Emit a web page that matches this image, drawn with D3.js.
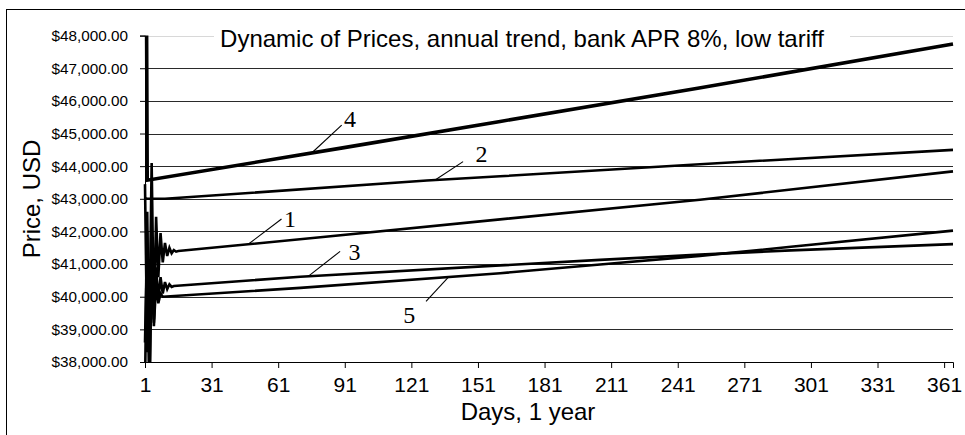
<!DOCTYPE html>
<html>
<head>
<meta charset="utf-8">
<script src="https://cdn.jsdelivr.net/npm/d3@7"></script>
<style>
  body { margin: 0; background: #fff; }
  svg { display: block; }
</style>
</head>
<body>
<div id="chart"></div>
<script>
// ---- data ----
const titleText = "Dynamic of Prices, annual trend, bank APR 8%, low tariff";
const xLabel = "Days, 1 year";
const yLabel = "Price, USD";
const xTicks = [1, 31, 61, 91, 121, 151, 181, 211, 241, 271, 301, 331, 361];
const yTicks = [38000, 39000, 40000, 41000, 42000, 43000, 44000, 45000, 46000, 47000, 48000];

// [day, price]
const series1 = [[1,43450],[2,38300],[3,39200],[4,44100],[5,39200],[6,42450],[7,40600],[8,41950],[9,41050],[10,41650],
  [11,41250],[12,41500],[13,41330],[14,41430],[15,41380],[16,41400],[80,41820],[161,42370],[251,42970],[365,43840]];
const series2 = [[1,43020],[2,43000],[10,43000],[128,43560],[161,43690],[251,44060],[365,44500]];
const series3 = [[1,37200],[2,42600],[3,37400],[4,41600],[5,39300],[6,40900],[7,39900],[8,40600],[9,40100],[10,40450],
  [11,40230],[12,40380],[13,40300],[14,40330],[71,40610],[161,40960],[206,41130],[251,41290],[292,41420],[365,41610]];
const series4 = [[1,60000],[2,43570],[90,44560],[161,45370],[250,46390],[365,47740]];
const series5 = [[1,38600],[2,42000],[3,36500],[4,41200],[5,39100],[6,40400],[7,39800],[8,40100],[9,40000],
  [71,40270],[161,40720],[206,40985],[251,41250],[292,41530],[365,42025]];

const seriesNames = ["1", "2", "3", "4", "5"];
const seriesData = [series1, series2, series3, series4, series5];
const seriesWidth = [2.6, 2.6, 2.6, 3.6, 2.6];

// callouts: [label, day on line, leader end day, leader end price, text day, text baseline price]
const callouts = [
  ["1", 47.5, 62.5, 42380, 66.3, 42140],
  ["2", 131.7, 144.3, 44140, 152.6, 44130],
  ["3", 74.5, 88.9, 41390, 95.4, 41130],
  ["4", 76.1, 89.6, 45260, 93.4, 45200],
  ["5", 137.7, 127.6, 39860, 120, 39200]
];

// ---- layout ----
const width = 965, height = 435;
const margin = { left: 145, right: 12, top: 35.6, bottom: 73 };

const svg = d3.select("#chart").append("svg")
  .attr("width", width)
  .attr("height", height)
  .style("font-family", "'Liberation Sans', Arial, sans-serif");

// outer frame
svg.append("rect")
  .attr("x", 6.5).attr("y", 9.5)
  .attr("width", 1200).attr("height", 600)
  .attr("fill", "none").attr("stroke", "#000").attr("stroke-width", 1);

const x = d3.scaleLinear()
  .domain([1, 365])
  .range([margin.left, width - margin.right]);

const y = d3.scaleLinear()
  .domain([38000, 48000])
  .range([362, margin.top]);

// grid lines
svg.append("g")
  .selectAll("line")
  .data(yTicks.filter(d => d > 38000))
  .join("line")
  .attr("x1", x(1)).attr("x2", x(365))
  .attr("y1", d => Math.round(y(d)) + 0.5).attr("y2", d => Math.round(y(d)) + 0.5)
  .attr("stroke", d => d === 48000 ? "#d8d8d8" : "#2a2a2a")
  .attr("stroke-width", 1);

// title box hides the top grid line
svg.append("rect")
  .attr("x", 214).attr("y", 18)
  .attr("width", 636).attr("height", 33)
  .attr("fill", "#fff");

// series
svg.append("clipPath").attr("id", "plot")
  .append("rect")
  .attr("x", x(1) - 3).attr("y", y(48000))
  .attr("width", x(365) - x(1) + 6).attr("height", y(38000) - y(48000));

const line = d3.line()
  .x(d => x(d[0]))
  .y(d => y(d[1]));

svg.append("g")
  .attr("clip-path", "url(#plot)")
  .selectAll("path")
  .data(seriesData)
  .join("path")
  .attr("d", line)
  .attr("fill", "none")
  .attr("stroke", "#000")
  .attr("stroke-width", (d, i) => seriesWidth[i])
  .attr("stroke-linejoin", "miter");

// axes
const xAxis = svg.append("g")
  .attr("transform", `translate(0, ${y(38000)})`)
  .call(d3.axisBottom(x).tickValues(xTicks).tickSize(6).tickFormat(d3.format("d")));
xAxis.select(".domain").attr("stroke", "#000");
xAxis.selectAll("text")
  .attr("font-size", 21)
  .attr("font-family", "'Liberation Sans', Arial, sans-serif")
  .attr("fill", "#000")
  .attr("dy", "1.0em");

const yAxis = svg.append("g")
  .attr("transform", `translate(${x(1)}, 0)`)
  .call(d3.axisLeft(y).tickValues(yTicks).tickSize(5).tickPadding(12)
    .tickFormat(d => "$" + d3.format(",.2f")(d)));
yAxis.select(".domain").attr("stroke", "#000");
yAxis.selectAll("text")
  .attr("font-size", 15.3)
  .attr("font-family", "'Liberation Sans', Arial, sans-serif")
  .attr("fill", "#000");

// titles
svg.append("text")
  .attr("x", 522).attr("y", 47)
  .attr("text-anchor", "middle")
  .attr("font-size", 24)
  .text(titleText);

svg.append("text")
  .attr("x", 528).attr("y", 420)
  .attr("text-anchor", "middle")
  .attr("font-size", 24)
  .text(xLabel);

svg.append("text")
  .attr("transform", `translate(40, 199) rotate(-90)`)
  .attr("text-anchor", "middle")
  .attr("font-size", 24)
  .text(yLabel);

// numbered callouts
const priceAt = (s, day) => {
  const data = seriesData[seriesNames.indexOf(s)];
  return d3.scaleLinear().domain(data.map(d => d[0])).range(data.map(d => d[1]))(day);
};

const co = svg.append("g");
co.selectAll("line")
  .data(callouts)
  .join("line")
  .attr("x1", d => x(d[1])).attr("y1", d => y(priceAt(d[0], d[1])))
  .attr("x2", d => x(d[2])).attr("y2", d => y(d[3]))
  .attr("stroke", "#000").attr("stroke-width", 1.1);

co.selectAll("text")
  .data(callouts)
  .join("text")
  .attr("x", d => x(d[4]))
  .attr("y", d => y(d[5]))
  .attr("font-family", "'Liberation Serif', 'Times New Roman', serif")
  .attr("font-size", 24)
  .attr("text-anchor", "middle")
  .text(d => d[0]);
</script>
</body>
</html>
